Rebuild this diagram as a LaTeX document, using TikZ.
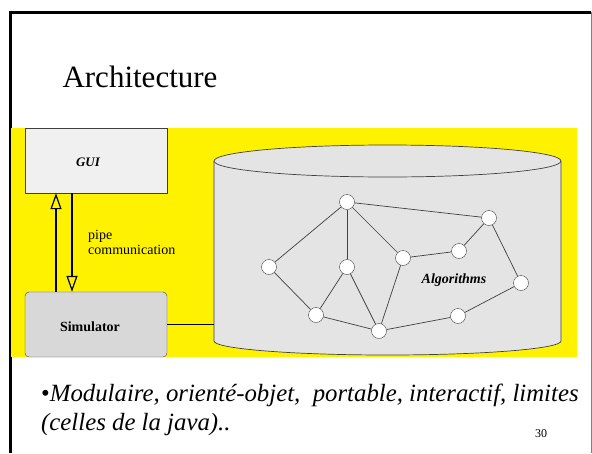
\documentclass[tikz,border=0pt]{standalone}
\usepackage{fontspec}
\setmainfont{Liberation Serif}
\usepackage{tikz}
\usetikzlibrary{arrows.meta}

\definecolor{guigrey}{HTML}{F0F0F0}
\definecolor{simgrey}{HTML}{D8D8D8}
\definecolor{dbgrey}{HTML}{E4E4E4}
\definecolor{edgegrey}{HTML}{404040}

\tikzset{
  vertex/.style={circle, draw=edgegrey, fill=white, minimum size=15pt, inner sep=0pt},
  link/.style={draw=edgegrey, line width=0.7pt},
  pipe/.style={line width=1.3pt, -{Triangle[open, width=11pt, length=16pt, line width=1.2pt]}}
}

\begin{document}
\begin{tikzpicture}[x=1pt, y=-1pt]
\useasboundingbox (0,0) rectangle (592,453);
% frame
\fill[white] (0,0) rectangle (592,453);
\draw[line width=3pt] (10,453)--(10,12)--(591,12);
\draw[gray, line width=1pt] (591,12)--(591,453);
\node[anchor=base west, font=\fontsize{31}{36}\selectfont] (title) at (59,87) {Architecture};
%
\fill[yellow] (11,128) rectangle (577,357);
%
% database
\draw[edgegrey, fill=dbgrey, line width=0.7pt] (214,161)--(214,341)
  arc[start angle=180, end angle=0, x radius=173.5, y radius=14]--(561,161);
\draw[edgegrey, fill=dbgrey, line width=0.7pt] (387.5,161) ellipse [x radius=173.5, y radius=16];
\coordinate (db) at (214,324.5);
%
% gui and simulator
\node[draw=edgegrey, fill=guigrey, minimum width=142pt, minimum height=65pt, inner sep=0pt] (gui) at (96,160.5) {};
\node[font=\fontsize{13}{15}\selectfont\bfseries\itshape] (guitext) at (88,162) {GUI};
\node[draw=edgegrey, fill=simgrey, rounded corners=4pt, minimum width=142pt, minimum height=65pt, inner sep=0pt] (sim) at (96,324.5) {};
\node[font=\fontsize{14}{16}\selectfont\bfseries] (simtext) at (90,327) {Simulator};
%
\draw[pipe] (sim.north -| 56,0) -- (gui.south -| 56,0);
\draw[pipe] (gui.south -| 72,0) -- (sim.north -| 72,0);
\node[anchor=base west, align=left, inner sep=0pt, font=\fontsize{14}{15}\selectfont] (pipelabel) at (88,254) {pipe\\communication};
\draw[line width=1.3pt] (sim.east) -- (db);
%
% graph
\node[vertex] (a) at (347,202) {};
\node[vertex] (b) at (489,218) {};
\node[vertex] (c) at (459,251) {};
\node[vertex] (d) at (403,258) {};
\node[vertex] (e) at (347,267) {};
\node[vertex] (f) at (269,267) {};
\node[vertex] (g) at (521,283) {};
\node[vertex] (h) at (316,315) {};
\node[vertex] (k) at (458,316) {};
\node[vertex] (m) at (379,331) {};
\foreach \u/\v in {a/f, a/e, a/d, a/b, b/c, c/d, b/g, g/k, k/m, d/m, e/m, e/h, f/h, h/m}
  \draw[link] (\u) -- (\v);
\node[font=\fontsize{14}{16}\selectfont\bfseries\itshape] (algo) at (454,280) {Algorithms};
%
% bottom text
\node[anchor=base west, align=left, inner sep=0pt, font=\fontsize{24.8}{29}\selectfont\itshape] (remark) at (41,430)
  {{\upshape•}Modulaire, orienté-objet,\ \ portable, interactif, limites\\(celles de la java)..};
\node[anchor=base west, inner sep=0pt, font=\fontsize{12}{14}\selectfont] (pagenum) at (535,437) {30};
\end{tikzpicture}
\end{document}
